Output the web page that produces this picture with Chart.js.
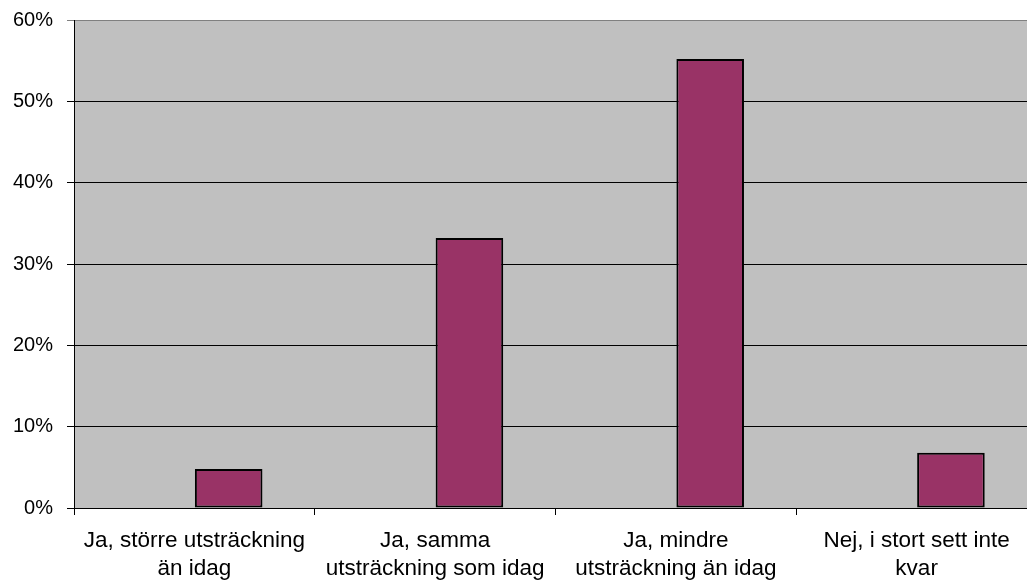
<!DOCTYPE html>
<html>
<head>
<meta charset="utf-8">
<script src="https://cdn.jsdelivr.net/npm/chart.js@4/dist/chart.umd.min.js"></script>
<style>
  html, body { margin: 0; padding: 0; background: #fff; overflow: hidden; }
  #wrap { width: 1037px; height: 581px; }
</style>
</head>
<body>
<div id="wrap"><canvas id="answerChart"></canvas></div>
<script>
const categories = [
  ['Ja, större utsträckning', 'än idag'],
  ['Ja, samma', 'utsträckning som idag'],
  ['Ja, mindre', 'utsträckning än idag'],
  ['Nej, i stort sett inte', 'kvar'],
];
const emptySeries = [null, null, null, null];
const shares = [0.048, 0.332, 0.552, 0.068];
const yTicks = [0, 0.1, 0.2, 0.3, 0.4, 0.5, 0.6];

const plotBackground = {
  id: 'plotBackground',
  beforeDraw(chart) {
    const { ctx, chartArea } = chart;
    ctx.save();
    ctx.fillStyle = '#c0c0c0';
    ctx.fillRect(chartArea.left, chartArea.top, chartArea.width, chartArea.height);
    ctx.restore();
  },
};

const family = 'Liberation Sans, Arial, sans-serif';

new Chart(document.querySelector('#answerChart'), {
  type: 'bar',
  data: {
    labels: categories,
    datasets: [
      {
        label: 'tom',
        data: emptySeries,
        backgroundColor: '#9999ff',
      },
      {
        label: 'Andel',
        data: shares,
        backgroundColor: '#993366',
        borderColor: '#000',
        borderWidth: 2,
        borderSkipped: false,
      },
    ],
  },
  plugins: [plotBackground],
  options: {
    responsive: true,
    maintainAspectRatio: false,
    animation: false,
    layout: { padding: { top: 20, right: 0, left: 0, bottom: 0 } },
    categoryPercentage: 0.57,
    barPercentage: 0.985,
    plugins: {
      legend: { display: false },
      tooltip: { enabled: false },
    },
    scales: {
      x: {
        afterFit(scale) {
          scale.height = 73;
          scale.paddingLeft = 0;
          scale.paddingRight = 0;
        },
        ticks: {
          color: '#000',
          font: { family, size: 22.5, lineHeight: 1.25 },
          maxRotation: 0,
          autoSkip: false,
          padding: 12,
        },
        grid: {
          drawOnChartArea: false,
          color: '#000',
          tickLength: 7,
        },
        border: { color: '#000', width: 1 },
      },
      y: {
        min: 0,
        max: 0.6,
        afterFit(scale) {
          scale.width = 74;
          scale.paddingTop = 0;
          scale.paddingBottom = 0;
        },
        afterBuildTicks(scale) {
          scale.ticks = yTicks.map((value) => ({ value }));
        },
        ticks: {
          color: '#000',
          font: { family, size: 20 },
          padding: 14,
          callback: (value) => `${Math.round(value * 100)}%`,
        },
        grid: {
          color: (ctx) => (ctx.tick && ctx.tick.value === 0.6 ? '#808080' : '#000'),
          tickLength: 7,
        },
        border: { color: '#000', width: 1 },
      },
    },
  },
});
</script>
</body>
</html>
